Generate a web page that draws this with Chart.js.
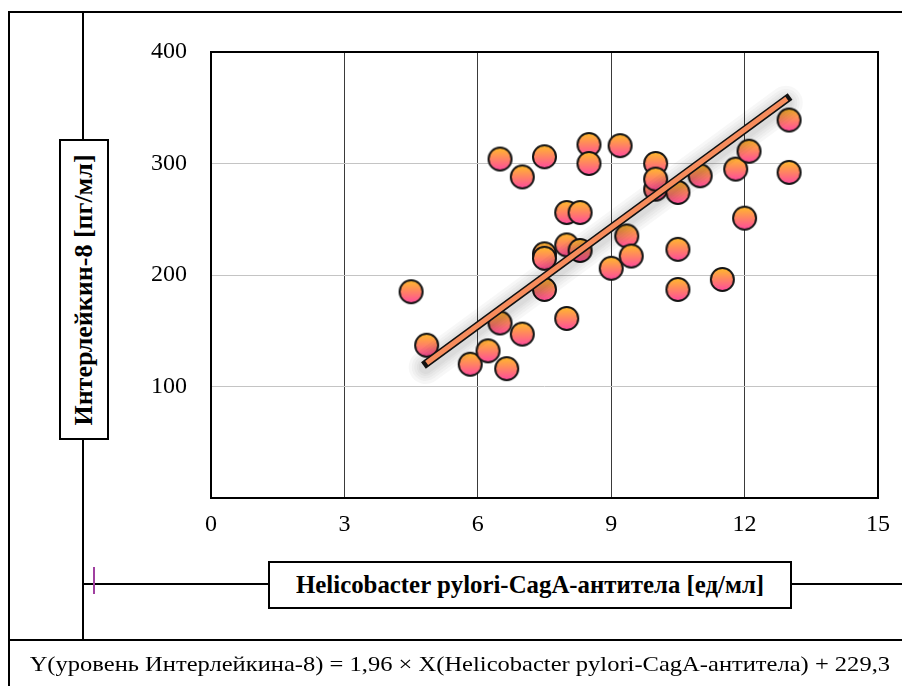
<!DOCTYPE html>
<html>
<head>
<meta charset="utf-8">
<script src="https://cdn.jsdelivr.net/npm/chart.js@4.4.0/dist/chart.umd.min.js"></script>
<style>
body{margin:0;background:#fff;}
#wrap{position:relative;width:902px;height:686px;overflow:hidden;font-family:"Liberation Serif","Times New Roman",serif;color:#000;}
#chart{position:absolute;left:0;top:0;}
.ln{position:absolute;background:#000;}
.box{position:absolute;box-sizing:border-box;border:2px solid #000;background:#fff;display:flex;align-items:center;justify-content:center;font-weight:bold;font-size:26px;white-space:nowrap;}
.box span{display:block;}
#eq{position:absolute;left:9px;width:902px;top:644px;height:40px;line-height:40px;text-align:center;font-size:22px;white-space:nowrap;}
#eq span{display:inline-block;transform:scaleX(1.115);}
</style>
</head>
<body>
<div id="wrap">
  <canvas id="chart" width="902" height="686"></canvas>
  <div class="ln" style="left:9px;top:11px;width:900px;height:2px;"></div>
  <div class="ln" style="left:8px;top:11px;width:2px;height:690px;"></div>
  <div class="ln" style="left:82px;top:11px;width:2px;height:630px;"></div>
  <div class="ln" style="left:9px;top:639px;width:900px;height:2px;"></div>
  <div class="ln" style="left:83px;top:583px;width:820px;height:2px;"></div>
  <div class="ln" style="left:93px;top:567px;width:2px;height:27px;background:#a040a0;"></div>
  <div class="box" style="left:59px;top:139px;width:50px;height:301px;"><span style="transform:rotate(-90deg);">Интерлейкин-8 [пг/мл]</span></div>
  <div class="box" style="left:268px;top:561px;width:524px;height:48px;"><span style="transform:scaleX(0.955);">Helicobacter pylori-CagA-антитела [ед/мл]</span></div>
  <div id="eq"><span>Y(уровень Интерлейкина-8) = 1,96 × X(Helicobacter pylori-CagA-антитела) + 229,3</span></div>
</div>
<script>
// points
var cag_x = [4.5, 4.85, 5.83, 6.23, 6.5, 6.65, 6.5, 7.0, 7.0, 7.5, 7.5, 7.5, 7.5, 8.0, 8.3, 8.0, 8.3, 8.0, 8.5, 8.5, 9.2, 9.0, 9.35, 9.45, 10.0, 10.0, 10.0, 10.5, 10.5, 10.5, 11.0, 11.5, 11.8, 12.0, 12.1, 13.0, 13.0];
var il8_y = [185, 137, 120, 132, 157, 116, 304, 288, 147, 306, 219, 215, 187, 256, 256, 227, 222, 161, 317, 300, 316, 206, 235, 217, 277, 300, 286, 274, 223, 187, 289, 196, 295, 251, 311, 339, 292];
// trend line ends
var trend_x = [4.85, 12.95];
var trend_y = [121, 358];
var x_ticks = [0, 3, 6, 9, 12, 15];
var y_ticks = [0, 100, 200, 300, 400];

var points = [];
for (var i = 0; i < cag_x.length; i++) {
    points.push({x: cag_x[i], y: il8_y[i]});
}
var trend = [];
for (var j = 0; j < trend_x.length; j++) {
    trend.push({x: trend_x[j], y: trend_y[j]});
}

function makeDot(r) {
    var c = document.createElement('canvas');
    var s = r * 2 + 4;
    c.width = s;
    c.height = s;
    var g = c.getContext('2d');
    var grad = g.createLinearGradient(0, 2, 0, s - 2);
    grad.addColorStop(0, '#ffbb2a');
    grad.addColorStop(1, '#ff4a9e');
    g.beginPath();
    g.arc(s / 2, s / 2, r, 0, Math.PI * 2);
    g.fillStyle = grad;
    g.fill();
    g.lineWidth = 2;
    g.strokeStyle = '#141414';
    g.stroke();
    return c;
}
var dot = makeDot(11.5);

var framePlugin = {
    id: 'frame',
    // soft grey glow under the trend line
    beforeDatasetDraw: function(chart, args) {
        if (args.index !== 1) return;
        var pts = chart.getDatasetMeta(1).data;
        if (pts.length < 2) return;
        var ctx = chart.ctx;
        ctx.save();
        ctx.lineCap = 'round';
        var widths = [34, 28, 23, 18, 14];
        for (var k = 0; k < widths.length; k++) {
            ctx.strokeStyle = 'rgba(0,0,0,0.03)';
            ctx.lineWidth = widths[k];
            ctx.beginPath();
            ctx.moveTo(pts[0].x - 1, pts[0].y + 4);
            ctx.lineTo(pts[1].x - 1, pts[1].y + 4);
            ctx.stroke();
        }
        ctx.restore();
    },
    afterDatasetsDraw: function(chart) {
        var a = chart.chartArea;
        var ctx = chart.ctx;
        ctx.save();
        ctx.strokeStyle = '#000';
        ctx.lineWidth = 2;
        ctx.strokeRect(a.left, a.top, a.right - a.left, a.bottom - a.top);
        ctx.restore();
    }
};

var ctx = document.getElementById('chart');
var scatter_chart = new Chart(ctx, {
    type: 'scatter',
    data: {
        datasets: [{
            type: 'line',
            data: trend,
            borderColor: '#f78c5c',
            borderWidth: 5,
            borderCapStyle: 'butt',
            pointRadius: 0,
            fill: false,
            order: 0
        }, {
            type: 'line',
            data: trend,
            borderColor: '#111',
            borderWidth: 8,
            borderCapStyle: 'square',
            pointRadius: 0,
            fill: false,
            order: 1
        }, {
            data: points,
            pointStyle: dot,
            pointRadius: 12,
            order: 2
        }]
    },
    options: {
        responsive: false,
        animation: false,
        layout: {
            padding: {left: 0, top: 52, right: 22, bottom: 0}
        },
        scales: {
            x: {
                type: 'linear',
                min: 0,
                max: 15,
                afterBuildTicks: function(s) {
                    s.ticks = x_ticks.map(function(v) { return {value: v}; });
                },
                afterFit: function(s) { s.height = 188; },
                grid: {
                    color: '#3a3a3a',
                    lineWidth: 1,
                    drawTicks: false
                },
                border: {display: false},
                ticks: {
                    padding: 12,
                    color: '#000',
                    font: {family: 'Liberation Serif', size: 24}
                }
            },
            y: {
                type: 'linear',
                min: 0,
                max: 400,
                afterBuildTicks: function(s) {
                    s.ticks = y_ticks.map(function(v) { return {value: v}; });
                },
                afterFit: function(s) { s.width = 211; },
                grid: {
                    color: '#c4c4c4',
                    lineWidth: 1,
                    drawTicks: false
                },
                border: {display: false},
                ticks: {
                    padding: 24,
                    color: '#000',
                    font: {family: 'Liberation Serif', size: 24},
                    callback: function(v) { return v === 0 ? '' : v; }
                }
            }
        },
        plugins: {
            legend: false,
            tooltip: {enabled: false}
        }
    },
    plugins: [framePlugin]
});
</script>
</body>
</html>
